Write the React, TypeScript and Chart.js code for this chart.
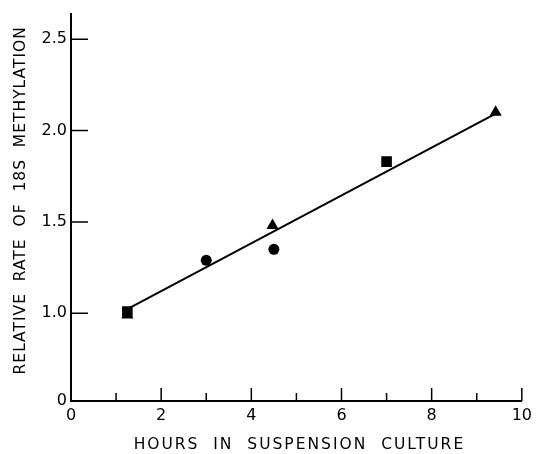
import React, { useEffect, useRef } from "react";
import { Chart, registerables } from "chart.js";

Chart.register(...registerables);

// ---- data ----
const circleX = [3.0, 4.5];
const circleY = [1.29, 1.35];
const squareX = [1.25, 7.0];
const squareY = [1.01, 1.83];
const triangleX = [1.25, 4.47, 9.42];
const triangleY = [0.99, 1.48, 2.1];
const fitX = [1.3, 9.4];
const fitY = [1.03, 2.09];

const xMajorTicks = [0, 2, 4, 6, 8, 10];
const xMinorTicks = [1, 3, 5, 7, 9];
const yTickValues = [1.0, 1.5, 2.0, 2.5];
const yBreakValue = 0.52; // broken axis: origin labelled "0"
const yTopValue = 2.64;

const xTitle = "HOURS  IN  SUSPENSION  CULTURE";
const yTitle = "RELATIVE  RATE  OF  18S  METHYLATION";

const FONT = '"DejaVu Sans", "Liberation Sans", sans-serif';

const zip = (xs: number[], ys: number[]) => xs.map((x, i) => ({ x, y: ys[i] }));

const decorPlugin = {
  id: "decor",
  afterDraw(chart: any) {
    const { ctx, scales, chartArea } = chart;
    const xs = scales.x;
    const ys = scales.y;
    ctx.save();
    ctx.strokeStyle = "#000";
    ctx.lineWidth = 1.5;
    const y0 = ys.getPixelForValue(yBreakValue);
    const x0 = xs.getPixelForValue(0);
    ctx.beginPath();
    xMajorTicks.forEach((v) => {
      const px = xs.getPixelForValue(v);
      ctx.moveTo(px, y0);
      ctx.lineTo(px, y0 - 13);
    });
    xMinorTicks.forEach((v) => {
      const px = xs.getPixelForValue(v);
      ctx.moveTo(px, y0);
      ctx.lineTo(px, y0 - 8);
    });
    yTickValues.forEach((v) => {
      const py = ys.getPixelForValue(v);
      ctx.moveTo(x0, py);
      ctx.lineTo(x0 + 17, py);
    });
    ctx.stroke();

    ctx.fillStyle = "#000";
    ctx.font = `15.5px ${FONT}`;
    ctx.textAlign = "center";
    ctx.textBaseline = "middle";
    const cx = (chartArea.left + chartArea.right) / 2;
    (ctx as any).letterSpacing = "2px";
    ctx.fillText(xTitle, cx + 3, chartArea.bottom + 44);
    (ctx as any).letterSpacing = "1px";
    ctx.save();
    ctx.translate(21, (chartArea.top + chartArea.bottom) / 2 - 7);
    ctx.rotate(-Math.PI / 2);
    ctx.fillText(yTitle, 0, 0);
    ctx.restore();
    (ctx as any).letterSpacing = "0px";
    ctx.restore();
  },
};

export default function App() {
  const ref = useRef<HTMLCanvasElement | null>(null);

  useEffect(() => {
    if (!ref.current) return;
    const markerBase = {
      type: "scatter" as const,
      backgroundColor: "#000",
      borderColor: "#000",
      borderWidth: 0,
      showLine: false,
    };
    const chart = new Chart(ref.current, {
      type: "scatter",
      data: {
        datasets: [
          {
            type: "line",
            label: "fit",
            data: zip(fitX, fitY),
            borderColor: "#000",
            borderWidth: 2,
            pointRadius: 0,
            fill: false,
            showLine: true,
          } as any,
          { ...markerBase, label: "circles", data: zip(circleX, circleY), pointStyle: "circle", pointRadius: 5.5 },
          { ...markerBase, label: "squares", data: zip(squareX, squareY), pointStyle: "rect", pointRadius: 7.5 },
          { ...markerBase, label: "triangles", data: zip(triangleX, triangleY), pointStyle: "triangle", pointRadius: 7 },
        ],
      },
      options: {
        animation: false,
        responsive: true,
        maintainAspectRatio: false,
        layout: { padding: { top: 10, right: 10, left: 0, bottom: 0 } },
        plugins: { legend: { display: false }, tooltip: { enabled: false } },
        scales: {
          x: {
            type: "linear",
            min: 0,
            max: 10,
            afterFit: (s: any) => {
              s.height = 53;
            },
            ticks: { stepSize: 2, color: "#000", font: { family: FONT, size: 16 }, padding: 5, maxRotation: 0 },
            grid: { drawOnChartArea: false, drawTicks: false },
            border: { color: "#000", width: 2 },
          },
          y: {
            type: "linear",
            min: yBreakValue,
            max: yTopValue,
            afterFit: (s: any) => {
              s.width = 71;
            },
            afterBuildTicks: (s: any) => {
              s.ticks = [yBreakValue, ...yTickValues].map((v) => ({ value: v }));
            },
            ticks: {
              color: "#000",
              font: { family: FONT, size: 16 },
              padding: 4,
              callback: (v: any) => (v === yBreakValue ? "0" : Number(v).toFixed(1)),
            },
            grid: { drawOnChartArea: false, drawTicks: false },
            border: { color: "#000", width: 2 },
          },
        },
      },
      plugins: [decorPlugin],
    });
    return () => chart.destroy();
  }, []);

  return (
    <div style={{ position: "absolute", left: 0, top: 0, width: 537, height: 454, background: "#fff" }}>
      <canvas ref={ref} />
    </div>
  );
}
